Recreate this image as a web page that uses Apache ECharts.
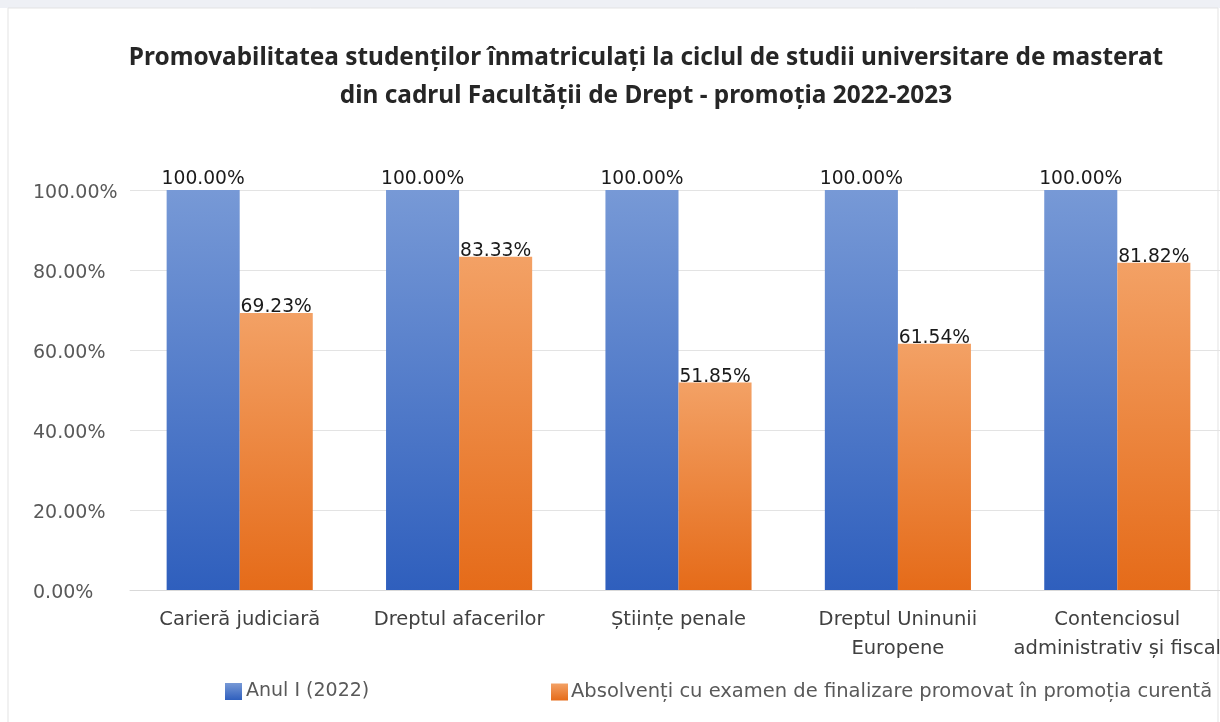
<!DOCTYPE html>
<html>
<head>
<meta charset="utf-8">
<script src="https://cdn.jsdelivr.net/npm/echarts@6/dist/echarts.min.js"></script>
<style>
html, body { margin: 0; padding: 0; background: #ffffff; }
#chart { width: 1220px; height: 722px; }
</style>
</head>
<body>
<div id="chart"></div>
<script>
// date
var categorii = ['Carieră judiciară', 'Dreptul afacerilor', 'Științe penale', 'Dreptul Uninunii\nEuropene', 'Contenciosul\nadministrativ și fiscal'];
var anulI = [100, 100, 100, 100, 100];
var absolventi = [69.23, 83.33, 51.85, 61.54, 81.82];
var numeSerii = ['Anul I (2022)', 'Absolvenți cu examen de finalizare promovat în promoția curentă'];
var titlu = 'Promovabilitatea studenților înmatriculați la ciclul de studii universitare de masterat\ndin cadrul Facultății de Drept - promoția 2022-2023';

var font = 'DejaVu Sans';

function gradient(top, bottom){
    return new echarts.graphic.LinearGradient(0, 0, 0, 1, [
        { offset: 0, color: top },
        { offset: 1, color: bottom }
    ]);
}

function procent(p){
    return p.value.toFixed(2) + '%';
}

var chart = echarts.init(document.getElementById('chart'));
var opts = {
    backgroundColor: '#ffffff',
    animation: false,
    title: {
        text: titlu,
        left: 646,
        top: 39,
        padding: 0,
        textAlign: 'center',
        textStyle: {
            fontFamily: 'Noto Sans',
            fontSize: 24.4,
            fontWeight: 'bold',
            color: '#262626',
            lineHeight: 38
        }
    },
    graphic: [
        { type: 'rect', shape: { x: 0, y: 0, width: 1220, height: 8 }, style: { fill: '#eef0f5' }, silent: true },
        { type: 'rect', shape: { x: 8, y: 8, width: 1210, height: 720 }, style: { fill: 'none', stroke: '#e3e3e3', lineWidth: 1 }, silent: true }
    ],
    legend: [
        {
            data: [numeSerii[0]],
            left: 220, top: 677,
            itemWidth: 17, itemHeight: 17, itemGap: 4,
            icon: 'rect',
            textStyle: { fontFamily: font, fontSize: 19, color: '#595959', padding: [0, 0, 0, -1] }
        },
        {
            data: [numeSerii[1]],
            left: 546, top: 677,
            itemWidth: 17, itemHeight: 17,
            icon: 'rect',
            textStyle: { fontFamily: font, fontSize: 19.5, color: '#595959', padding: [0, 0, 0, -2] }
        }
    ],
    grid: { left: 130, width: 1097, top: 190, bottom: 132, outerBoundsMode: 'none' },
    xAxis: {
        type: 'category',
        data: categorii,
        axisLine: { lineStyle: { color: '#d9d9d9', width: 1 } },
        axisTick: { show: false },
        axisLabel: {
            fontFamily: font, fontSize: 19.5, color: '#404040',
            lineHeight: 29, margin: 15, interval: 0
        }
    },
    yAxis: {
        type: 'value',
        min: 0, max: 100, interval: 20,
        axisLine: { show: false },
        axisTick: { show: false },
        splitLine: { lineStyle: { color: '#e3e3e3', width: 1 } },
        axisLabel: {
            align: 'left', margin: 97,
            formatter: function(v){ return '{p|' + v.toFixed(2) + '%}'; },
            rich: {
                p: { fontFamily: font, fontSize: 19, color: '#595959', padding: [6, 0, 0, 0] }
            }
        }
    },
    series: [
        {
            name: numeSerii[0],
            type: 'bar',
            data: anulI,
            barGap: '0%',
            barCategoryGap: '33.4%',
            itemStyle: { color: gradient('#7799d6', '#2f5fbd') },
            label: {
                show: true, position: 'top', distance: 1,
                fontFamily: font, fontSize: 18.7, color: '#1a1a1a',
                formatter: procent
            }
        },
        {
            name: numeSerii[1],
            type: 'bar',
            data: absolventi,
            itemStyle: { color: gradient('#f3a165', '#e56b19') },
            label: {
                show: true, position: 'top', distance: -4,
                fontFamily: font, fontSize: 18.7, color: '#1a1a1a',
                formatter: procent
            }
        }
    ]
};
chart.setOption(opts);
</script>
</body>
</html>
